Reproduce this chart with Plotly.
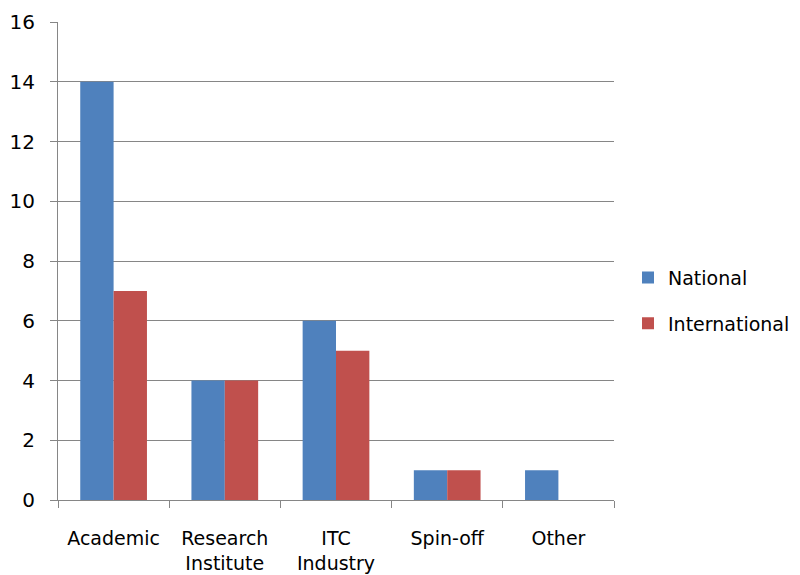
import plotly.graph_objects as go

categories = ["Academic", "Research<br>Institute", "ITC<br>Industry", "Spin-off", "Other"]
national = [14, 4, 6, 1, 1]
international = [7, 4, 5, 1, 0]
y_ticks = [0, 2, 4, 6, 8, 10, 12, 14, 16]

FONT = "DejaVu Sans"
GRID = "#868686"

fig = go.Figure()
fig.add_trace(go.Bar(x=categories, y=national, name="National",
                     marker=dict(color="#4F81BD", line=dict(width=0)),
                     legendgroup="a"))
fig.add_trace(go.Bar(x=categories, y=international, name="International",
                     marker=dict(color="#C0504D", line=dict(width=0)),
                     legendgroup="b"))

# page body adds an 8px offset; margins compensate for it
fig.update_layout(
    width=800, height=575,
    margin=dict(l=50, r=194, t=14, b=83, autoexpand=False),
    paper_bgcolor="white", plot_bgcolor="white",
    barmode="group", bargap=0.4, bargroupgap=0,
    font=dict(family=FONT, size=19, color="#000000"),
    legend=dict(x=0.775, y=0.491, xref="container", yref="container",
                xanchor="left", yanchor="middle",
                traceorder="grouped", tracegroupgap=18,
                font=dict(family=FONT, size=19), itemwidth=30),
    xaxis=dict(showline=True, linecolor=GRID, linewidth=1, automargin=False,
               ticks="outside", ticklen=7, tickcolor=GRID, tickson="boundaries",
               showgrid=False, ticklabelstandoff=21,
               tickfont=dict(family=FONT, size=19)),
    yaxis=dict(range=[0, 16], tickvals=y_ticks, showline=True, linecolor=GRID,
               linewidth=1, ticks="outside", ticklen=7, tickcolor=GRID,
               showgrid=True, gridcolor=GRID, gridwidth=1, zeroline=False,
               ticklabelstandoff=11, automargin=False,
               tickfont=dict(family=FONT, size=20)),
)

fig.write_html("out.html")
